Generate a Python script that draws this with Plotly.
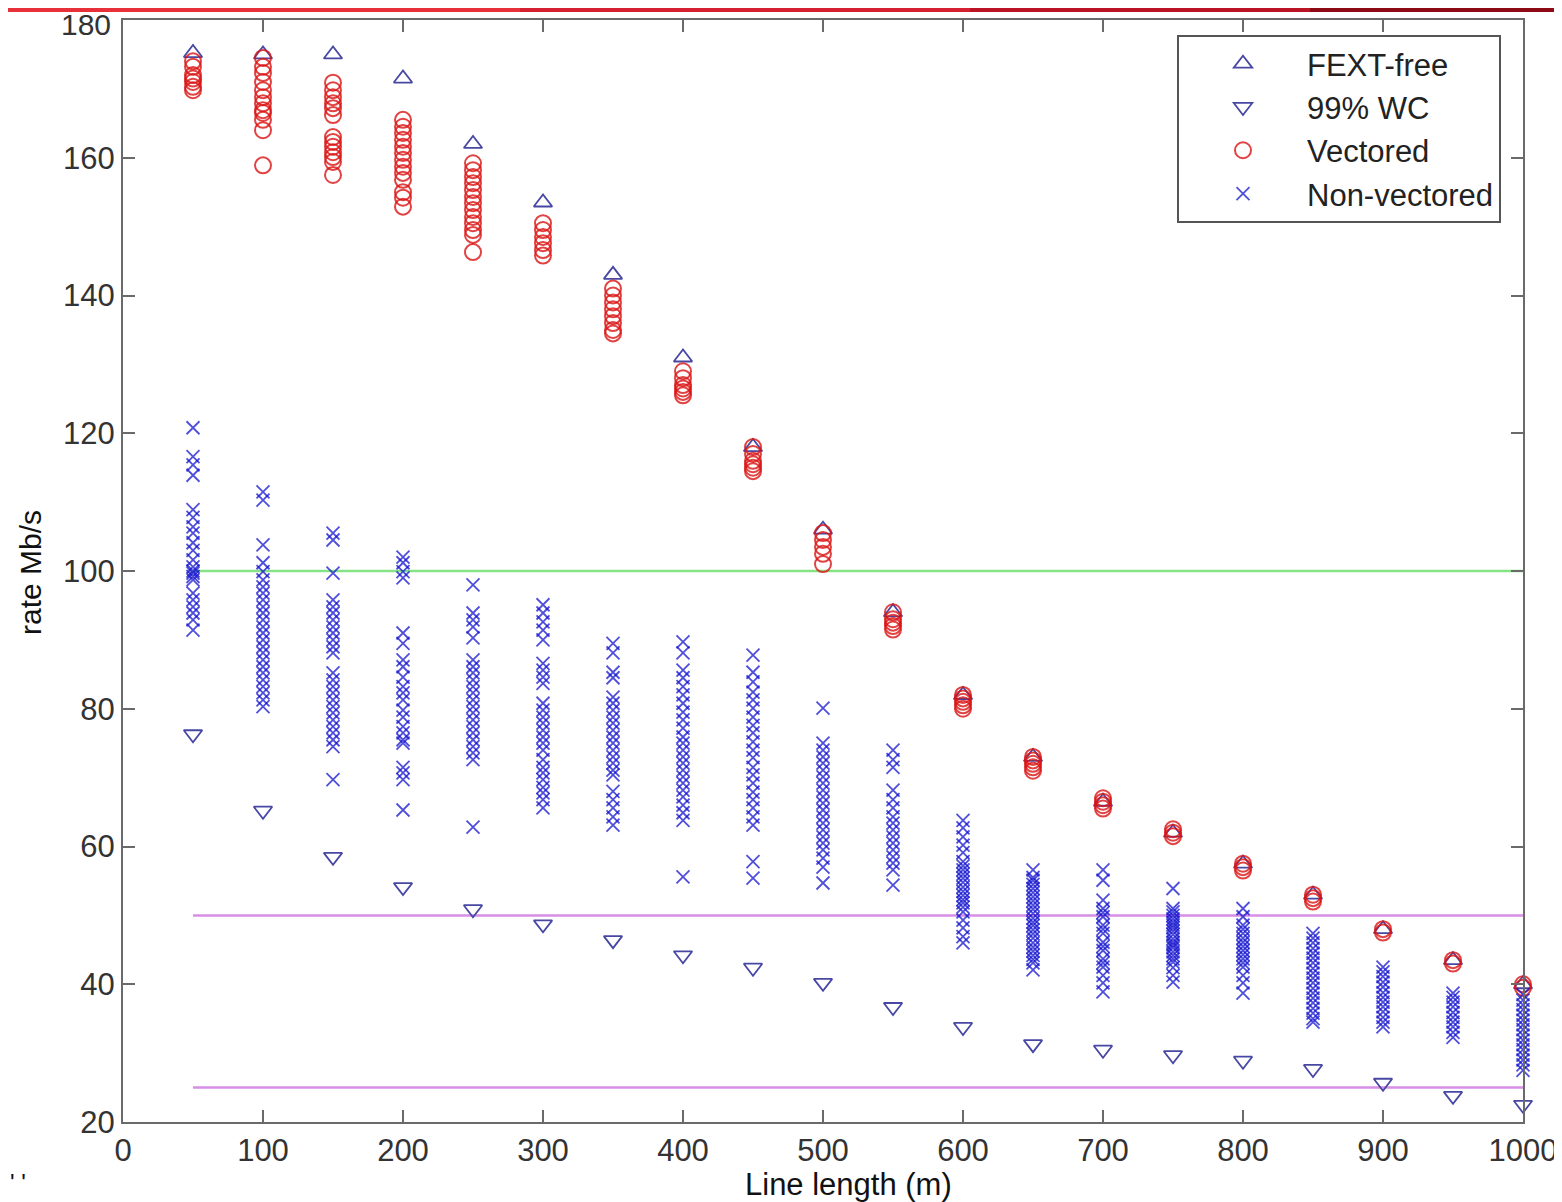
import plotly.graph_objects as go

# ---------------- data ----------------
lengths = [50, 100, 150, 200, 250, 300, 350, 400, 450, 500,
           550, 600, 650, 700, 750, 800, 850, 900, 950, 1000]

fext_free = [175.2, 175.0, 175.0, 171.5, 162.0, 153.5, 143.0, 131.0, 118.0, 106.0,
             94.0, 82.0, 73.0, 66.5, 62.0, 57.5, 53.0, 48.0, 43.5, 40.0]

wc99 = [76.3, 65.2, 58.5, 54.1, 50.9, 48.7, 46.4, 44.2, 42.4, 40.2,
        36.7, 33.8, 31.3, 30.5, 29.7, 28.9, 27.7, 25.7, 23.8, 22.5]

vectored = [
    [174.0, 173.2, 172.0, 171.5, 171.0, 170.3, 169.8],
    [174.5, 173.2, 172.3, 171.0, 169.8, 168.8, 167.9, 166.9, 166.5, 165.5, 164.0, 158.9],
    [170.9, 169.8, 168.8, 167.9, 167.2, 166.2, 163.0, 162.3, 161.6, 160.8, 160.1, 159.4, 157.5],
    [165.5, 164.5, 163.6, 162.6, 161.6, 160.7, 159.7, 158.7, 157.8, 156.8, 155.0, 154.2, 152.9],
    [159.2, 158.2, 157.2, 156.3, 155.3, 154.3, 153.4, 152.4, 151.4, 150.5, 149.5, 148.8, 146.3],
    [150.5, 149.5, 148.5, 147.6, 146.6, 145.8],
    [141.0, 140.0, 139.0, 138.0, 137.0, 136.0, 135.0, 134.5],
    [129.0, 128.0, 127.0, 126.5, 126.0, 125.5],
    [118.0, 117.0, 116.0, 115.5, 115.0, 114.5],
    [105.5, 104.5, 103.5, 102.5, 101.0],
    [94.0, 93.0, 92.5, 92.0, 91.5],
    [82.0, 81.5, 81.0, 80.5, 80.0],
    [73.0, 72.5, 72.0, 71.5, 71.0],
    [67.0, 66.5, 66.0, 65.5],
    [62.5, 62.0, 61.5],
    [57.5, 57.0, 56.5],
    [53.0, 52.5, 52.0],
    [48.0, 47.5],
    [43.5, 43.0],
    [40.0, 39.5],
]

non_vectored = [
    [120.8, 116.6, 115.4, 113.9, 108.9, 107.8, 106.4, 105.5, 104.1, 103.0, 101.6, 100.6,
     100.0, 99.7, 99.2, 98.7, 96.8, 95.8, 94.8, 93.9, 92.9, 91.4],
    [111.5, 110.3, 103.8, 101.2, 99.9, 98.7, 97.7, 96.8, 95.8, 94.8, 93.9, 92.9, 91.9,
     91.0, 90.0, 89.0, 88.1, 87.1, 86.1, 85.2, 84.2, 83.2, 82.3, 81.3, 80.3],
    [105.5, 104.5, 99.7, 95.8, 94.8, 93.9, 92.9, 91.9, 91.0, 90.0, 89.0, 88.1, 85.2,
     84.2, 83.2, 82.3, 81.3, 80.3, 79.4, 78.4, 77.4, 76.5, 75.5, 74.5, 69.7],
    [102.0, 101.2, 99.9, 99.0, 91.0, 89.5, 87.1, 86.1, 84.6, 83.2, 82.3, 81.3, 79.8,
     78.8, 77.4, 76.5, 75.5, 75.0, 71.5, 70.7, 69.7, 65.3],
    [98.0, 93.9, 92.9, 91.9, 90.3, 87.1, 86.1, 85.2, 84.2, 83.2, 82.3, 81.3, 80.3,
     79.4, 78.4, 77.4, 76.5, 75.5, 74.5, 73.6, 72.6, 62.8],
    [95.1, 93.9, 92.6, 91.4, 90.0, 86.6, 85.6, 84.6, 83.7, 80.8, 79.8, 78.8, 77.9,
     76.9, 75.9, 75.0, 74.0, 72.6, 71.5, 70.7, 69.7, 68.6, 67.8, 66.8, 65.6],
    [89.5, 88.1, 85.3, 84.5, 81.7, 80.8, 79.8, 78.8, 77.9, 76.9, 75.9, 75.0, 74.0,
     73.0, 72.1, 71.1, 70.4, 68.0, 66.8, 65.6, 64.3, 63.1],
    [89.7, 88.1, 85.6, 84.5, 83.2, 82.0, 80.8, 79.5, 78.4, 77.2, 75.9, 75.0, 74.0,
     73.0, 72.1, 71.1, 70.1, 69.2, 68.2, 67.2, 66.0, 64.9, 63.8, 55.6],
    [87.8, 85.3, 83.9, 82.4, 81.3, 80.1, 78.8, 77.6, 76.5, 75.2, 74.0, 72.9, 71.5,
     70.4, 69.2, 67.9, 66.8, 65.6, 64.3, 63.1, 57.8, 55.4],
    [80.1, 75.0, 74.0, 73.0, 72.1, 71.1, 70.1, 69.2, 68.2, 67.2, 66.3, 65.3, 64.3,
     63.4, 62.4, 61.4, 60.5, 59.5, 58.3, 57.0, 54.7],
    [74.0, 72.6, 71.5, 68.2, 66.8, 65.6, 64.3, 63.4, 62.4, 61.4, 60.5, 59.5, 58.5,
     57.6, 56.6, 54.4],
    [63.8, 62.7, 61.4, 60.2, 59.1, 57.8, 57.2, 56.6, 56.0, 55.4, 54.8, 54.1, 53.5,
     52.9, 52.3, 51.8, 51.2, 50.5, 49.3, 48.2, 46.9, 46.0],
    [56.6, 55.5, 55.1, 54.5, 53.9, 53.3, 52.7, 52.1, 51.5, 50.9, 50.3, 49.6, 49.0,
     48.5, 47.9, 47.3, 46.7, 46.0, 45.4, 44.8, 44.2, 43.6, 43.1, 42.1],
    [56.6, 55.1, 52.2, 51.0, 50.4, 49.8, 48.6, 48.0, 47.4, 46.1, 45.5, 44.9, 43.7,
     43.1, 42.5, 41.3, 40.2, 38.9],
    [53.9, 51.0, 50.5, 50.0, 49.5, 49.0, 48.6, 48.2, 47.7, 47.2, 46.6, 46.1, 45.7,
     45.3, 44.7, 44.2, 43.7, 43.2, 42.4, 41.3, 40.3],
    [51.0, 49.8, 48.6, 48.0, 47.4, 46.7, 46.1, 45.5, 44.9, 44.3, 43.7, 43.1, 42.5,
     41.3, 40.2, 38.7],
    [47.4, 46.7, 46.0, 45.2, 44.5, 43.8, 43.1, 42.3, 41.6, 40.9, 40.2, 39.4, 38.7,
     38.0, 37.3, 36.5, 35.8, 35.0, 34.5],
    [42.5, 41.8, 41.1, 40.3, 39.6, 38.8, 38.1, 37.4, 36.7, 36.0, 35.2, 34.5, 33.8],
    [38.7, 38.1, 37.4, 36.7, 35.9, 35.2, 34.5, 33.8, 33.0, 32.3],
    [38.5, 37.7, 37.0, 36.3, 35.5, 34.8, 34.1, 33.4, 32.6, 31.9, 31.2, 30.5, 29.7, 29.0,
     28.3, 27.5],
]

target_lengths = [50, 1000]
target_100 = [100, 100]
target_50 = [50, 50]
target_25 = [25, 25]

x_ticks = [0, 100, 200, 300, 400, 500, 600, 700, 800, 900, 1000]
y_ticks = [20, 40, 60, 80, 100, 120, 140, 160, 180]

# ---------------- flatten grouped series ----------------
def flatten(groups):
    xs, ys = [], []
    for L, vals in zip(lengths, groups):
        for v in vals:
            xs.append(L)
            ys.append(v)
    return xs, ys

vec_x, vec_y = flatten(vectored)
nv_x, nv_y = flatten(non_vectored)

FONT = "Liberation Sans, Arial, sans-serif"
TXT = "#333333"
AX = "#6a6a6a"
TICK_SIZE = 31

# page body has an 8px margin: the figure is sized/placed so that the
# plot area lands at screen pixels x 123..1523, y 20..1122
SCR_W, SCR_H = 1562, 1202
OFF = 8
W, H = SCR_W - OFF, SCR_H - OFF
PL, PR, PT, PB = 123, 1523, 20, 1122          # plot area in screen pixels
PW, PH = PR - PL, PB - PT
L_M, R_M, T_M, B_M = PL - OFF, SCR_W - PR, PT - OFF, SCR_H - PB


def px(sx):
    return (sx - PL) / PW


def py(sy):
    return (PB - sy) / PH


fig = go.Figure()

# reference lines
fig.add_trace(go.Scatter(x=target_lengths, y=target_100, mode="lines", cliponaxis=False,
                         line=dict(color="#86e286", width=2.5), showlegend=False, hoverinfo="skip"))
fig.add_trace(go.Scatter(x=target_lengths, y=target_50, mode="lines", cliponaxis=False,
                         line=dict(color="#d68ee6", width=2.5), showlegend=False, hoverinfo="skip"))
fig.add_trace(go.Scatter(x=target_lengths, y=target_25, mode="lines", cliponaxis=False,
                         line=dict(color="#d68ee6", width=2.5), showlegend=False, hoverinfo="skip"))

fig.add_trace(go.Scatter(
    x=lengths, y=fext_free, mode="markers", name="FEXT-free", cliponaxis=False,
    marker=dict(symbol="triangle-up-open", size=16, color="#4848a4", line=dict(width=1.8)),
))
fig.add_trace(go.Scatter(
    x=lengths, y=wc99, mode="markers", name="99% WC", cliponaxis=False,
    marker=dict(symbol="triangle-down-open", size=16, color="#4848a4", line=dict(width=1.8)),
))
fig.add_trace(go.Scatter(
    x=vec_x, y=vec_y, mode="markers", name="Vectored", cliponaxis=False,
    marker=dict(symbol="circle-open", size=16, color="rgba(218,20,20,0.8)", line=dict(width=2)),
))
fig.add_trace(go.Scatter(
    x=nv_x, y=nv_y, mode="markers", name="Non-vectored", cliponaxis=False,
    marker=dict(symbol="x-thin-open", size=13, color="rgba(20,20,205,0.75)", line=dict(width=1.8)),
))

# top slide stripe (drawn beneath the axis labels)
stripe = [(OFF, 520, "#e8303a"), (520, 970, "#d42030"), (970, 1310, "#bb1424"), (1310, SCR_W, "#8e0a14")]
for a, b, c in stripe:
    fig.add_shape(type="rect", xref="paper", yref="paper",
                  x0=px(a), x1=px(b), y0=py(12), y1=py(OFF),
                  fillcolor=c, line=dict(width=0), layer="below")

# top y tick label placed a few pixels lower so it is not clipped at the page edge
y_tick_text = [str(v) for v in y_ticks]
top_label = y_tick_text[-1]
y_tick_text[-1] = ""
fig.add_annotation(text=top_label, xref="paper", yref="paper",
                   x=px(113), y=py(25), showarrow=False,
                   xanchor="right", yanchor="middle",
                   font=dict(family=FONT, size=TICK_SIZE - 1, color=TXT))

fig.add_annotation(text="Line length (m)", xref="paper", yref="paper",
                   x=px(848), y=py(1184), showarrow=False,
                   xanchor="center", yanchor="middle",
                   font=dict(family=FONT, size=31, color="#111111"))
fig.add_annotation(text="rate Mb/s", xref="paper", yref="paper",
                   x=px(30), y=py(572), showarrow=False, textangle=-90,
                   xanchor="center", yanchor="middle",
                   font=dict(family=FONT, size=30, color="#111111"))
fig.add_annotation(text="' '", xref="paper", yref="paper",
                   x=px(18), y=py(1182), showarrow=False,
                   xanchor="center", yanchor="middle",
                   font=dict(family=FONT, size=24, color="#111111"))

axis_common = dict(
    showgrid=False, zeroline=False, showline=True, linecolor=AX, linewidth=2,
    mirror="ticks", ticks="inside", ticklen=12, tickwidth=2, tickcolor=AX,
    tickfont=dict(family=FONT, size=TICK_SIZE, color=TXT), automargin=False,
    ticklabeloverflow="allow",
)

fig.update_layout(
    template="none",
    width=W, height=H,
    margin=dict(l=L_M, r=R_M, t=T_M, b=B_M, pad=0),
    paper_bgcolor="white", plot_bgcolor="white",
    xaxis=dict(range=[0, 1000], tickvals=x_ticks, ticktext=[str(v) for v in x_ticks], **axis_common),
    yaxis=dict(range=[20, 180], tickvals=y_ticks, ticktext=y_tick_text, **axis_common),
    legend=dict(
        x=px(1177), y=py(35), xanchor="left", yanchor="top",
        bgcolor="white", bordercolor="#555555", borderwidth=2,
        font=dict(family=FONT, size=31, color="#222222"),
        itemwidth=118, tracegroupgap=0,
    ),
    font=dict(family=FONT),
    showlegend=True,
)

fig.write_html("out.html")
